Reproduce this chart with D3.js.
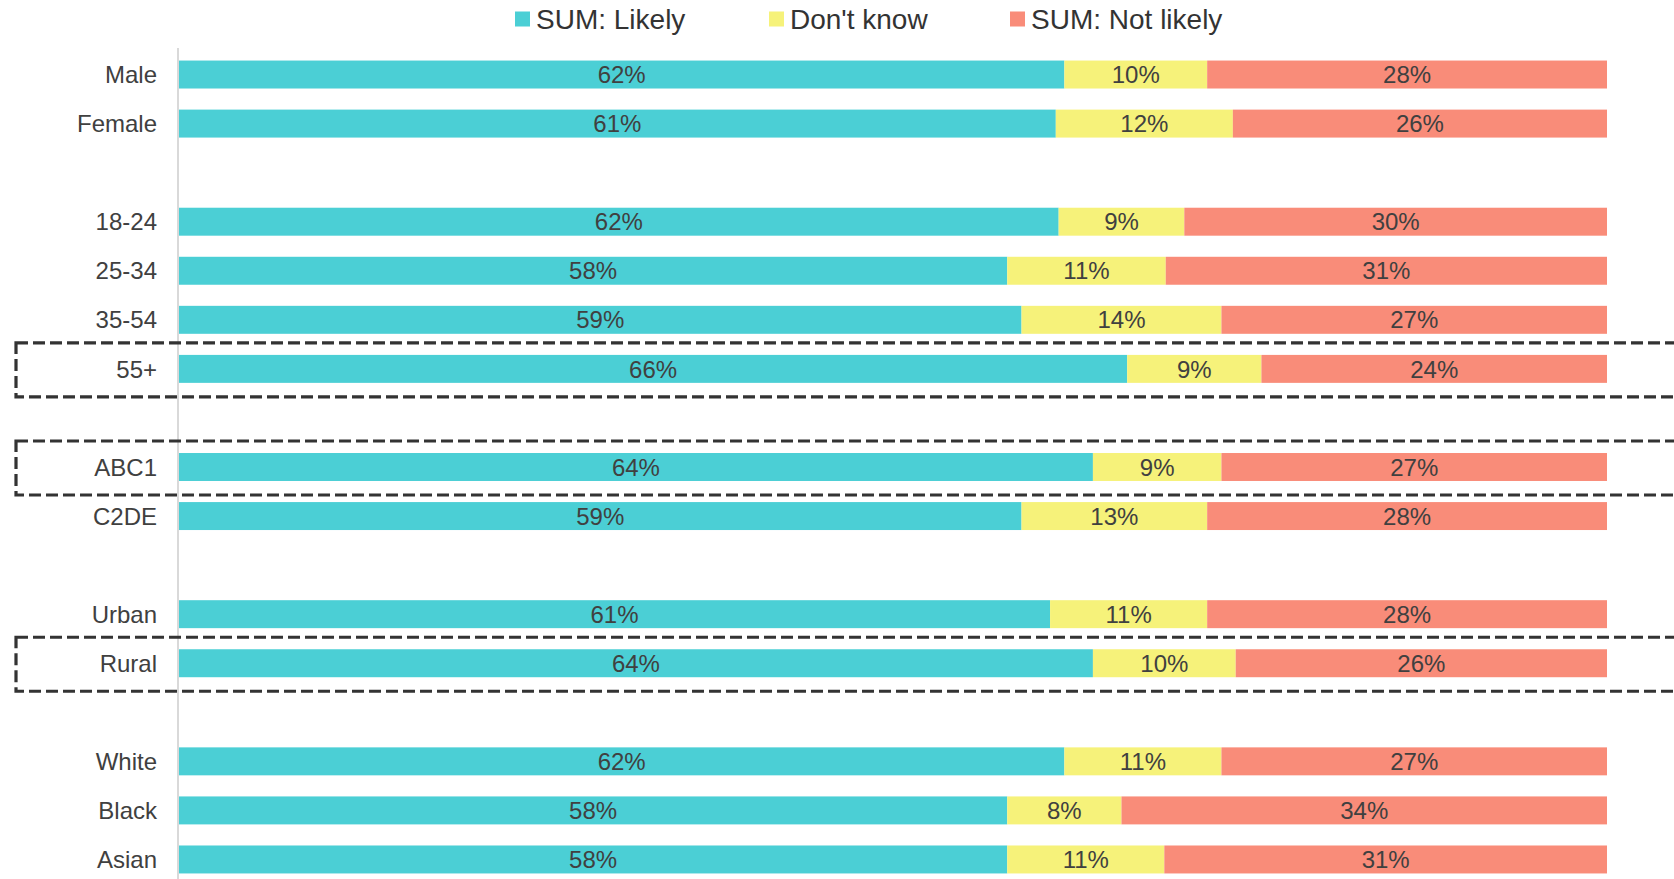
<!DOCTYPE html>
<html>
<head>
<meta charset="utf-8">
<script src="https://cdn.jsdelivr.net/npm/d3@7"></script>
<style>
  body { margin: 0; background: #fff; }
  .chart { width: 1674px; height: 879px; }
</style>
</head>
<body>
<div class="chart"></div>
<script>
// rows, with "" as spacer slots between groups
const categories = ["Male", "Female", "", "18-24", "25-34", "35-54", "55+", "", "ABC1", "C2DE", "", "Urban", "Rural", "", "White", "Black", "Asian"];
const series = ["SUM: Likely", "Don't know", "SUM: Not likely"];
const likely   = [62, 61.4, null, 61.6, 58, 59, 66.4, null, 64, 59, null, 61, 64, null, 62, 58, 58];
const dontKnow = [10, 12.4, null, 8.8, 11.1, 14, 9.4, null, 9, 13, null, 11, 10, null, 11, 8, 11];
const notLikely = [28, 26.2, null, 29.6, 30.9, 27, 24.2, null, 27, 28, null, 28, 26, null, 27, 34, 31];
const highlighted = ["55+", "ABC1", "Rural"];

const colors = ["#4bcfd5", "#f6f27a", "#f98c79"];
const textColor = "#404040";
const width = 1674, height = 879;
const margin = {top: 50, right: 67, bottom: 0, left: 179};

const svg = d3.select(".chart")
  .append("svg")
  .attr("width", width)
  .attr("height", height)
  .style("font-family", "'Liberation Sans', Arial, sans-serif");

const x = d3.scaleLinear()
  .domain([0, 100])
  .range([margin.left, width - margin.right]);

const y = d3.scaleBand()
  .domain(d3.range(categories.length))
  .range([margin.top, 884])
  .paddingInner(0.43)
  .paddingOuter(0.215);

const rows = categories.map((c, i) => {
  if (!c) return null;
  const vals = [likely[i], dontKnow[i], notLikely[i]];
  let acc = 0;
  return {
    category: c, index: i,
    segs: vals.map((v, k) => { const s = {k, x0: acc, x1: acc + v, v}; acc += v; return s; })
  };
}).filter(d => d);

// axis line
svg.append("line")
  .attr("x1", margin.left - 1).attr("x2", margin.left - 1)
  .attr("y1", 48).attr("y2", height)
  .attr("stroke", "#d9d9d9")
  .attr("stroke-width", 2);

const groups = svg.selectAll("g.row")
  .data(rows)
  .enter()
  .append("g")
  .attr("class", "row")
  .attr("transform", d => `translate(0, ${y(d.index)})`);

groups.selectAll("rect")
  .data(d => d.segs)
  .enter()
  .append("rect")
  .attr("x", d => x(d.x0))
  .attr("width", d => x(d.x1) - x(d.x0))
  .attr("height", y.bandwidth())
  .attr("fill", d => colors[d.k]);

groups.selectAll("text.value")
  .data(d => d.segs)
  .enter()
  .append("text")
  .attr("class", "value")
  .attr("x", d => (x(d.x0) + x(d.x1)) / 2)
  .attr("y", y.bandwidth() / 2)
  .attr("dy", "0.36em")
  .attr("text-anchor", "middle")
  .attr("fill", textColor)
  .style("font-size", "24px")
  .text(d => d3.format(".0f")(d.v) + "%");

groups.append("text")
  .attr("x", 157)
  .attr("y", y.bandwidth() / 2)
  .attr("dy", "0.36em")
  .attr("text-anchor", "end")
  .attr("fill", textColor)
  .style("font-size", "24px")
  .text(d => d.category);

// dashed highlight boxes
svg.selectAll("rect.box")
  .data(highlighted)
  .enter()
  .append("rect")
  .attr("class", "box")
  .attr("x", 16)
  .attr("y", d => y(categories.indexOf(d)) + y.bandwidth() / 2 - 26)
  .attr("width", width + 20)
  .attr("height", 54)
  .attr("fill", "none")
  .attr("stroke", "#333")
  .attr("stroke-width", 3.2)
  .attr("stroke-dasharray", "12,5");

// legend
const legendX = [515, 769, 1010];
const legend = svg.selectAll("g.legend")
  .data(series)
  .enter()
  .append("g")
  .attr("class", "legend")
  .attr("transform", (d, i) => `translate(${legendX[i]}, 19)`);

legend.append("rect")
  .attr("y", -7.5)
  .attr("width", 15)
  .attr("height", 15)
  .attr("fill", (d, i) => colors[i]);

legend.append("text")
  .attr("x", 21)
  .attr("dy", "0.36em")
  .attr("fill", "#333")
  .style("font-size", "28px")
  .text(d => d);
</script>
</body>
</html>
